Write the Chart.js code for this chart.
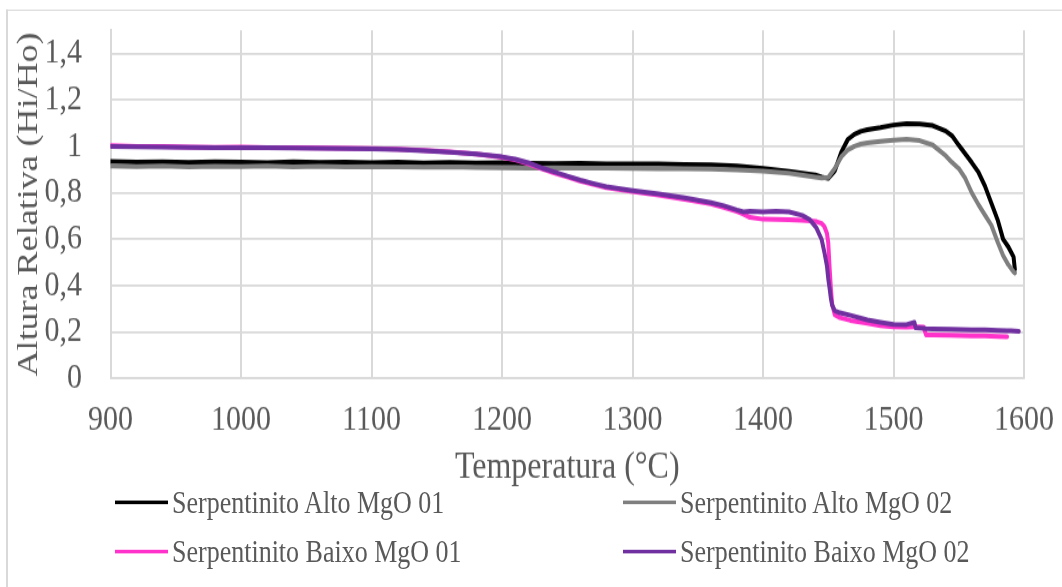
<!DOCTYPE html>
<html lang="pt">
<head>
<meta charset="utf-8">
<title>Altura relativa x temperatura</title>
<script src="https://cdn.jsdelivr.net/npm/chart.js@4.4.1/dist/chart.umd.min.js"></script>
<style>
    html, body { margin: 0; padding: 0; background: #fff; }
    body { height: 587px; }
    /* o grafico original foi esticado na vertical, por isso o scaleY */
    #wrap {
        position: relative;
        width: 1062px;
        height: 489px;
        transform: scaleY(1.2004);
        transform-origin: 0 0;
    }
    #frame {
        position: absolute;
        left: 6px;
        top: 7.6px;
        width: 1100px;
        height: 600px;
        border-left: 2px solid #d9d9d9;
        border-top: 1.7px solid #d9d9d9;
        pointer-events: none;
    }
    #chart { position: absolute; left: 0; top: 0; }
    #legend {
        position: absolute;
        left: 115px;
        top: 398px;
        display: grid;
        grid-template-columns: 508px auto;
        grid-auto-rows: 41px;
        font: 26px 'Liberation Serif', serif;
        color: #595959;
    }
    #legend .item { display: flex; align-items: center; white-space: nowrap; }
    #legend .swatch { width: 53px; height: 3.4px; margin-right: 4px; }
</style>
</head>
<body>
<div id="wrap">
    <div id="frame"></div>
    <canvas id="chart" width="1062" height="489"></canvas>
    <div id="legend"></div>
</div>
<script>
// Temperaturas (°C) das amostras de alto MgO
const tempAlto = [
    900, 920, 940, 960, 980, 1000, 1020, 1040, 1060, 1080, 1100, 1120, 1140,
    1160, 1180, 1200, 1220, 1240, 1260, 1280, 1300, 1320, 1340, 1360, 1380,
    1400, 1420, 1440, 1445, 1450, 1455, 1460, 1465, 1470, 1475, 1480, 1490,
    1500, 1510, 1520, 1530, 1540, 1545, 1550, 1555, 1560, 1565, 1570, 1575,
    1580, 1584, 1588, 1592, 1593
];
const altoMgO01 = [
    0.935, 0.932, 0.934, 0.931, 0.933, 0.932, 0.930, 0.934, 0.931, 0.932, 0.930, 0.932, 0.929,
    0.931, 0.928, 0.930, 0.927, 0.926, 0.927, 0.925, 0.924, 0.924, 0.922, 0.921, 0.915,
    0.905, 0.892, 0.877, 0.868, 0.862, 0.895, 0.975, 1.030, 1.052, 1.065, 1.072, 1.081,
    1.092, 1.098, 1.097, 1.090, 1.066, 1.045, 1.005, 0.968, 0.930, 0.890, 0.830, 0.755,
    0.680, 0.600, 0.567, 0.524, 0.470
];
const altoMgO02 = [
    0.915, 0.913, 0.916, 0.912, 0.914, 0.913, 0.915, 0.912, 0.914, 0.911, 0.913, 0.912, 0.910,
    0.911, 0.909, 0.908, 0.907, 0.908, 0.906, 0.906, 0.905, 0.904, 0.904, 0.902, 0.899,
    0.894, 0.884, 0.868, 0.864, 0.866, 0.905, 0.955, 0.985, 1.000, 1.010, 1.015, 1.021,
    1.027, 1.030, 1.025, 1.006, 0.960, 0.930, 0.905, 0.862, 0.800, 0.750, 0.705, 0.660,
    0.585, 0.530, 0.490, 0.460, 0.455
];

// Temperaturas (°C) das amostras de baixo MgO
const tempBaixo = [
    900, 920, 940, 960, 980, 1000, 1020, 1040, 1060, 1080, 1100, 1120, 1140, 1160, 1180, 1200,
    1210, 1220, 1230, 1240, 1250, 1260, 1270, 1280,
    1300, 1320, 1340, 1360, 1370, 1380, 1385, 1390,
    1400, 1410, 1420, 1430, 1436, 1441, 1445, 1447, 1449, 1450,
    1451, 1452, 1453, 1455, 1459, 1467, 1480, 1490, 1500, 1510,
    1516, 1517, 1523, 1525, 1530, 1544, 1560, 1570, 1580, 1587,
    1590, 1596
];
const baixoMgO01 = [
    1.003, 1.000, 0.999, 0.997, 0.996, 0.997, 0.995, 0.994, 0.993, 0.992, 0.990, 0.988, 0.983, 0.976, 0.967, 0.953,
    0.942, 0.926, 0.905, 0.886, 0.868, 0.851, 0.836, 0.822,
    0.806, 0.790, 0.772, 0.752, 0.737, 0.720, 0.708, 0.694,
    0.686, 0.685, 0.684, 0.682, 0.679, 0.676, 0.668, 0.655, 0.625, 0.585,
    0.480, 0.390, 0.320, 0.275, 0.262, 0.250, 0.238, 0.228, 0.222, 0.221,
    0.222, 0.222, 0.221, 0.188, 0.187, 0.186, 0.184, 0.183, 0.181, 0.180,
    null, null
];
const baixoMgO02 = [
    1.000, 0.998, 0.997, 0.996, 0.995, 0.995, 0.994, 0.993, 0.992, 0.991, 0.989, 0.987, 0.982, 0.975, 0.967, 0.955,
    0.945, 0.930, 0.908, 0.890, 0.872, 0.855, 0.840, 0.826,
    0.810, 0.795, 0.778, 0.758, 0.744, 0.726, 0.718, 0.720,
    0.718, 0.720, 0.718, 0.703, 0.684, 0.648, 0.598, 0.545, 0.485, 0.430,
    0.390, 0.345, 0.315, 0.292, 0.283, 0.272, 0.252, 0.242, 0.233, 0.232,
    0.242, 0.218, 0.216, 0.215, 0.214, 0.212, 0.210, 0.209, 0.207, 0.206,
    0.205, 0.203
];

const xTicks = [900, 1000, 1100, 1200, 1300, 1400, 1500, 1600];
const yTicks = [0, 0.2, 0.4, 0.6, 0.8, 1, 1.2, 1.4];

const fonte = 'Liberation Serif';
const cinzaTexto = '#595959';
const cinzaGrade = '#d9d9d9';

function pontos(temps, valores) {
    const out = [];
    temps.forEach((t, i) => {
        if (valores[i] !== null) out.push({ x: t, y: valores[i] });
    });
    return out;
}

function serie(label, temps, valores, cor, ordem) {
    return {
        label: label,
        data: pontos(temps, valores),
        borderColor: cor,
        backgroundColor: cor,
        borderWidth: 4,
        pointRadius: 0,
        tension: 0,
        borderJoinStyle: 'round',
        borderCapStyle: 'round',
        order: ordem
    };
}

const ctx = document.getElementById('chart').getContext('2d');
const chart = new Chart(ctx, {
    type: 'line',
    data: {
        datasets: [
            serie('Serpentinito Alto MgO 01', tempAlto, altoMgO01, '#000000', 4),
            serie('Serpentinito Alto MgO 02', tempAlto, altoMgO02, '#7f7f7f', 3),
            serie('Serpentinito Baixo MgO 01', tempBaixo, baixoMgO01, '#ff33cc', 2),
            serie('Serpentinito Baixo MgO 02', tempBaixo, baixoMgO02, '#7030a0', 1)
        ]
    },
    options: {
        responsive: false,
        devicePixelRatio: 1,
        animation: false,
        events: [],
        layout: {
            autoPadding: false,
            padding: { left: 0, top: 25.25, right: 38, bottom: 78.75 }
        },
        plugins: {
            legend: { display: false },
            tooltip: { enabled: false }
        },
        scales: {
            x: {
                type: 'linear',
                min: xTicks[0],
                max: xTicks[xTicks.length - 1],
                afterBuildTicks: (scale) => {
                    scale.ticks = xTicks.map(v => ({ value: v }));
                },
                afterFit: (scale) => {
                    scale.height = 95;
                    scale.paddingLeft = 0;
                    scale.paddingRight = 0;
                },
                grid: { color: cinzaGrade, lineWidth: 2, drawTicks: false },
                border: { color: cinzaGrade, width: 1.7 },
                ticks: {
                    autoSkip: false,
                    padding: 16.75,
                    maxRotation: 0,
                    color: cinzaTexto,
                    font: { family: fonte, size: 30 },
                    callback: (v) => String(v)
                },
                title: {
                    display: true,
                    text: 'Temperatura (°C)',
                    color: cinzaTexto,
                    font: { family: fonte, size: 32 },
                    padding: { top: 0, bottom: 1 }
                }
            },
            y: {
                min: 0,
                max: 1.5,
                afterBuildTicks: (scale) => {
                    scale.ticks = yTicks.map(v => ({ value: v }));
                },
                afterFit: (scale) => {
                    scale.width = 110.5;
                    scale.paddingTop = 0;
                    scale.paddingBottom = 0;
                },
                grid: { color: cinzaGrade, lineWidth: 1.7, drawTicks: false },
                border: { color: cinzaGrade, width: 2 },
                ticks: {
                    autoSkip: false,
                    padding: 28.5,
                    color: cinzaTexto,
                    font: { family: fonte, size: 30 },
                    callback: (v) => String(Math.round(v * 10) / 10).replace('.', ',')
                },
                title: {
                    display: true,
                    text: 'Altura Relativa (Hi/Ho)',
                    color: cinzaTexto,
                    font: { family: fonte, size: 30 },
                    padding: { top: 11, bottom: 0 }
                }
            }
        }
    }
});

// legenda em duas colunas, feita a partir dos datasets
const legenda = document.getElementById('legend');
chart.data.datasets.forEach(ds => {
    const item = document.createElement('div');
    item.className = 'item';
    const sw = document.createElement('span');
    sw.className = 'swatch';
    sw.style.background = ds.borderColor;
    const txt = document.createElement('span');
    txt.textContent = ds.label;
    item.appendChild(sw);
    item.appendChild(txt);
    legenda.appendChild(item);
});
</script>
</body>
</html>
